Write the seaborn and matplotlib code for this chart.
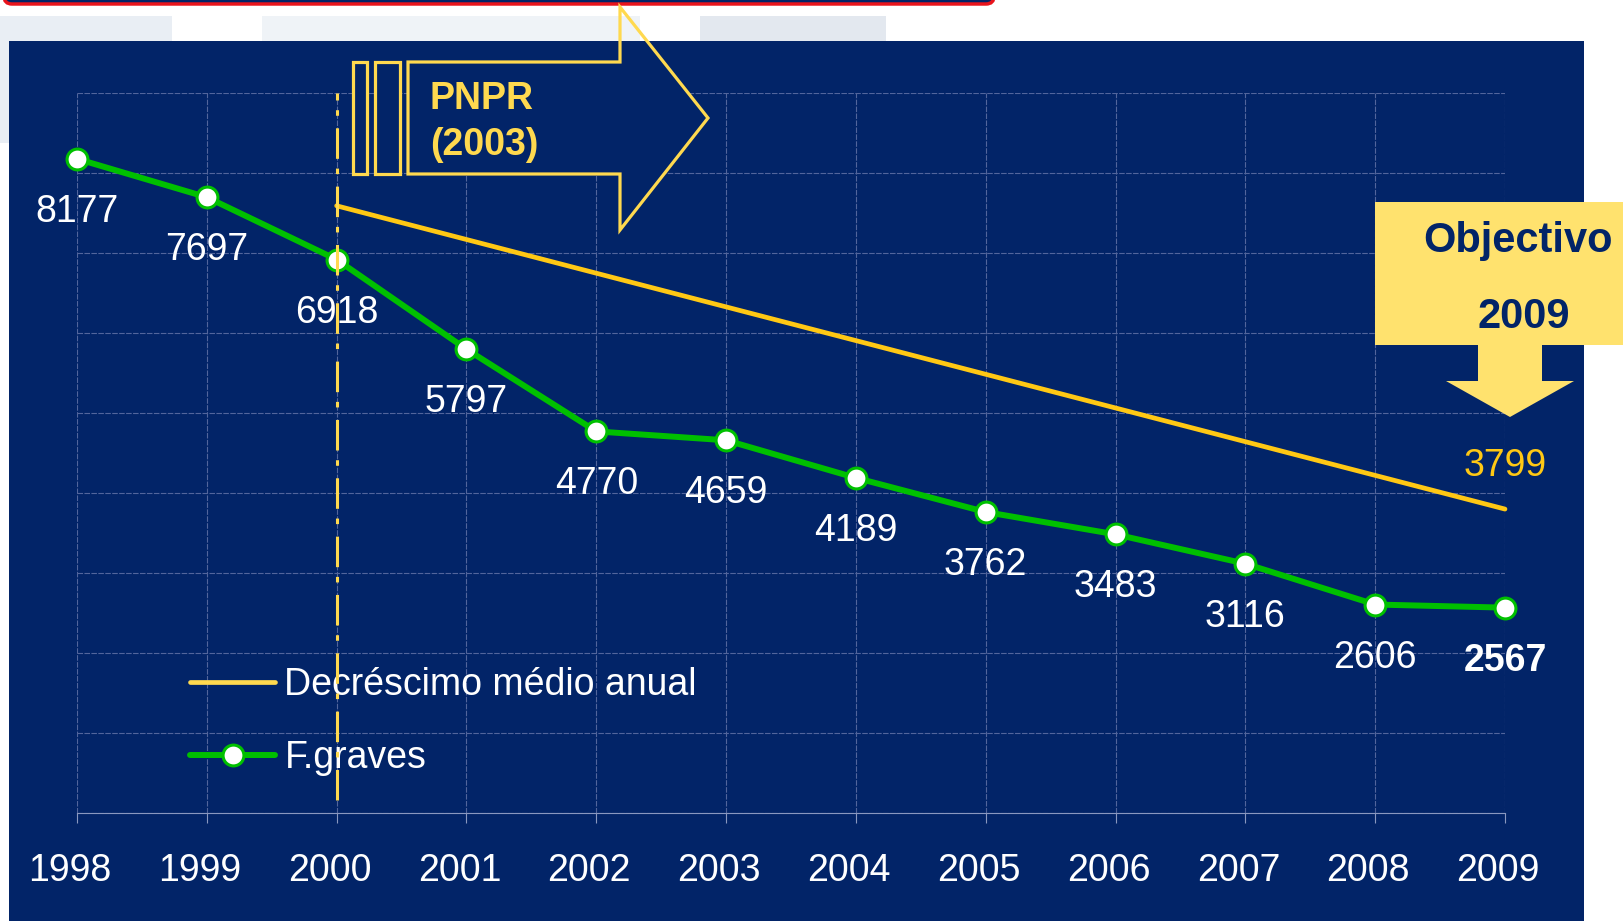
import matplotlib
matplotlib.use("Agg")
import matplotlib.pyplot as plt
import matplotlib.patches as mpatches
import matplotlib.transforms as mtransforms
from matplotlib.lines import Line2D
from matplotlib.ticker import MultipleLocator
import pandas as pd
import seaborn as sns

# data
years = [1998, 1999, 2000, 2001, 2002, 2003, 2004, 2005, 2006, 2007, 2008, 2009]
graves = [8177, 7697, 6918, 5797, 4770, 4659, 4189, 3762, 3483, 3116, 2606, 2567]
trend_years = [2000, 2009]
trend_values = [7590, 3799]
plan_year = 2000
series_names = ["Decréscimo médio anual", "F.graves"]
plan_lines = ["PNPR", "(2003)"]
target_lines = ["Objectivo", "2009"]

NAVY = "#022468"
GREEN = "#00C000"
YELLOW = "#FFC814"
PALE = "#FFD94F"
BOX = "#FFE26E"
GRID = "#52659C"
TICK = "#8A98C0"

sns.set_style("white")
plt.rcParams["font.family"] = ["Liberation Sans", "DejaVu Sans"]
plt.rcParams["lines.scale_dashes"] = False

W, H = 1623, 921
fig = plt.figure(figsize=(W / 100, H / 100), dpi=100)
fig.patch.set_facecolor("white")
# pixel coords measured from the top-left corner
px = mtransforms.Affine2D().scale(1 / W, -1 / H).translate(0, 1) + fig.transFigure

# faint watermark in the top strip
for x0, x1, c in [(0, 172, "#E9EEF4"), (262, 640, "#EFF3F7"), (700, 886, "#E3E8EF")]:
    fig.add_artist(mpatches.Rectangle((x0, 16), x1 - x0, 26, transform=px, color=c, lw=0, zorder=-2))
fig.add_artist(mpatches.Rectangle((0, 41), 9, 102, transform=px, color="#E9EEF4", lw=0, zorder=-2))

# title box edge and the navy panel
fig.add_artist(mpatches.FancyBboxPatch((4, -40), 990, 44, boxstyle="round,pad=0,rounding_size=8",
                                       transform=px, fc=NAVY, ec="#E8141C", lw=2.5, zorder=-1))
panel = mpatches.Rectangle((9, 41), 1575, 900, transform=px, color=NAVY, lw=0, zorder=-1)
fig.add_artist(panel)

ax = fig.add_axes([77 / W, 1 - 813 / H, (1505 - 77) / W, (813 - 93) / H])
ax.set_facecolor("none")

df = pd.DataFrame({"year": years, "value": graves})
trend = pd.DataFrame({"year": trend_years, "value": trend_values})

sns.lineplot(data=trend, x="year", y="value", color=YELLOW, lw=3.4, ax=ax, clip_on=False, zorder=3)
sns.lineplot(data=df, x="year", y="value", color=GREEN, lw=4.3, marker="o", markersize=15,
             markerfacecolor="white", markeredgecolor=GREEN, markeredgewidth=2.2,
             ax=ax, clip_on=False, zorder=4)
ax.axvline(plan_year, ymin=0.018, ymax=1, color=PALE, lw=2.2, dashes=(22, 9, 4, 7), zorder=7)

for x, y in zip(years, graves):
    ax.annotate(f"{y}", (x, y), xytext=(0, -63), textcoords="offset pixels", ha="center",
                va="baseline", color="white", fontsize=27,
                fontweight="bold" if x == years[-1] else "normal", zorder=5)
ax.annotate(f"{trend_values[-1]}", (trend_years[-1], trend_values[-1]), xytext=(0, 33),
            textcoords="offset pixels", ha="center", va="baseline", color=YELLOW, fontsize=27, zorder=5)

ax.set_xlim(years[0], years[-1])
ax.set_ylim(0, 9000)
ax.set_xticks(years)
ax.yaxis.set_major_locator(MultipleLocator(1000))
ax.grid(True, color=GRID, lw=0.8, ls=(0, (4, 1)))
ax.set_xlabel("")
ax.set_ylabel("")
for s in ["top", "right", "left"]:
    ax.spines[s].set_visible(False)
ax.spines["bottom"].set_color(TICK)
ax.spines["bottom"].set_linewidth(0.8)
ax.tick_params(axis="y", length=0, labelleft=False)
ax.tick_params(axis="x", direction="out", length=7, width=0.8, color=TICK, labelcolor="white",
               labelsize=27, pad=21.5, bottom=True)
shift = mtransforms.ScaledTranslation(-7 / 100, 0, fig.dpi_scale_trans)
for lab in ax.get_xticklabels():
    lab.set_transform(lab.get_transform() + shift)

handles = [Line2D([], [], color=PALE, lw=3.4),
           Line2D([], [], color=GREEN, lw=4.3, marker="o", ms=15, mfc="white", mec=GREEN, mew=2.2)]
ax.legend(handles, series_names, loc="upper left", bbox_to_anchor=(190, 667), bbox_transform=px,
          frameon=False, fontsize=27, labelcolor="white", handlelength=2.27, handletextpad=0.25,
          labelspacing=0.98, borderpad=0, borderaxespad=0)

# PNPR arrow
for x0, x1 in [(353, 367), (375, 400)]:
    r = mpatches.Rectangle((x0, 62), x1 - x0, 112, transform=px, fc=NAVY, ec=PALE, lw=2.3, zorder=2)
    fig.add_artist(r)
arrow_pts = [(408, 62), (620, 62), (620, 7), (708, 118), (620, 230), (620, 174), (408, 174)]
fill = mpatches.Polygon(arrow_pts, closed=True, transform=px, fc=NAVY, lw=0, zorder=2)
fig.add_artist(fill)
fill.set_clip_path(panel)
fig.add_artist(mpatches.Polygon(arrow_pts, closed=True, transform=px, fill=False, ec=PALE, lw=2.3, zorder=2))
fig.text(430, 109, plan_lines[0], transform=px, color=PALE, fontsize=27, fontweight="bold", va="baseline", zorder=3)
fig.text(430, 155, plan_lines[1], transform=px, color=PALE, fontsize=27, fontweight="bold", va="baseline", zorder=3)

# target box with down arrow
box_pts = [(1375, 202), (1630, 202), (1630, 345), (1542, 345), (1542, 381), (1574, 381),
           (1510, 417), (1446, 381), (1478, 381), (1478, 345), (1375, 345)]
fig.add_artist(mpatches.Polygon(box_pts, closed=True, transform=px, fc=BOX, lw=0, zorder=2))
fig.text(1518, 252, target_lines[0], transform=px, color=NAVY, fontsize=30, fontweight="bold",
         ha="center", va="baseline", zorder=3)
fig.text(1524, 328, target_lines[1], transform=px, color=NAVY, fontsize=30, fontweight="bold",
         ha="center", va="baseline", zorder=3)

fig.savefig("out.png", dpi=100)
